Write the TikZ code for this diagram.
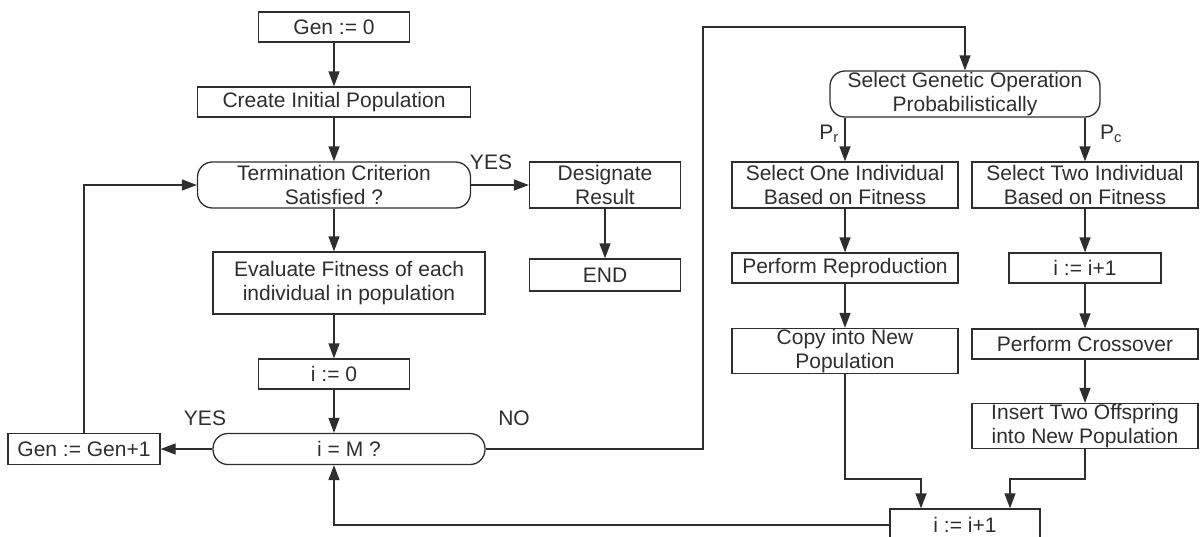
\documentclass[tikz,border=0pt]{standalone}
\usepackage{fontspec}
\setmainfont{Liberation Sans}
\usetikzlibrary{arrows.meta}
\definecolor{ink}{HTML}{2E2E2E}
\begin{document}
\begin{tikzpicture}[x=1pt,y=-1pt,
  every node/.style={text=ink,font=\fontsize{21}{24}\selectfont},
  box/.style={draw=ink,line width=1.3pt,inner sep=0pt,align=center},
  rbox/.style={box,rounded corners=15pt},
  arr/.style={draw=ink,line width=1.3pt,-{Triangle[length=15pt,width=11pt]}},
  lbl/.style={inner sep=0pt}]
\useasboundingbox (0,0) rectangle (1203,536);
% left column
\node[box,minimum width=151pt,minimum height=30pt] (g0) at (334,27) {Gen := 0};
\node[box,minimum width=273pt,minimum height=30pt] (cip) at (334,102) {Create Initial Population};
\node[rbox,minimum width=273pt,minimum height=46pt] (term) at (334,185) {Termination Criterion\\Satisfied ?};
\node[box,minimum width=151pt,minimum height=46pt] (des) at (605,185) {Designate\\Result};
\node[box,minimum width=151pt,minimum height=32pt] (endn) at (605,275) {END};
\node[box,minimum width=272pt,minimum height=62pt] (eval) at (349,283) {Evaluate Fitness of each\\individual in population};
\node[box,minimum width=151pt,minimum height=30pt] (i0) at (334,374) {i := 0};
\node[rbox,minimum width=272pt,minimum height=31pt] (iM) at (349,449) {i = M ?};
\node[box,minimum width=152pt,minimum height=31pt] (gen1) at (84,449) {Gen := Gen+1};
% right part
\node[rbox,minimum width=270pt,minimum height=46pt] (sgo) at (965,94) {Select Genetic Operation\\Probabilistically};
\node[box,minimum width=226pt,minimum height=46pt] (so) at (845,185) {Select One Individual\\Based on Fitness};
\node[box,minimum width=226pt,minimum height=46pt] (st) at (1085,185) {Select Two Individual\\Based on Fitness};
\node[box,minimum width=226pt,minimum height=30pt] (pr) at (845,268) {Perform Reproduction};
\node[box,minimum width=152pt,minimum height=30pt] (ii1) at (1085,268) {i := i+1};
\node[box,minimum width=226pt,minimum height=45pt] (cp) at (845,351) {Copy into New\\Population};
\node[box,minimum width=226pt,minimum height=30pt] (pc) at (1085,344) {Perform Crossover};
\node[box,minimum width=226pt,minimum height=45pt] (ins) at (1085,426) {Insert Two Offspring\\into New Population};
\node[box,minimum width=150pt,minimum height=32pt] (ii2) at (965,525) {i := i+1};
% labels
\node[lbl] (yes1) at (491,162) {YES};
\node[lbl] (yes2) at (205,418) {YES};
\node[lbl] (no) at (514,418) {NO};
\node[lbl] (prl) at (829,134) {P\textsubscript{r}};
\node[lbl] (pcl) at (1111,134) {P\textsubscript{c}};
% coordinates
\coordinate (c1) at (703,27);
\coordinate (j1) at (921,479);
\coordinate (j2) at (1010,479);
% connectors
\draw[arr] (g0) -- (cip);
\draw[arr] (cip) -- (term);
\draw[arr] (term.east) -- (des.west);
\draw[arr] (des) -- (endn);
\draw[arr] (term.south) -- (term.south |- eval.north);
\draw[arr] (eval.south -| i0) -- (i0.north);
\draw[arr] (i0.south) -- (i0.south |- iM.north);
\draw[arr] (iM.west) -- (gen1.east);
\draw[arr] (gen1.north) |- (term.west);
\draw[arr] (iM.east) -| (c1) -| (sgo.north);
\draw[arr] (sgo.south -| so) -- (so.north);
\draw[arr] (sgo.south -| st) -- (st.north);
\draw[arr] (so) -- (pr);
\draw[arr] (pr) -- (cp);
\draw[arr] (st) -- (ii1);
\draw[arr] (ii1) -- (pc);
\draw[arr] (pc) -- (ins);
\draw[arr] (cp.south) |- (j1) -- (j1 |- ii2.north);
\draw[arr] (ins.south) |- (j2) -- (j2 |- ii2.north);
\draw[arr] (ii2.west) -| (i0.south |- iM.south);
\end{tikzpicture}
\end{document}
